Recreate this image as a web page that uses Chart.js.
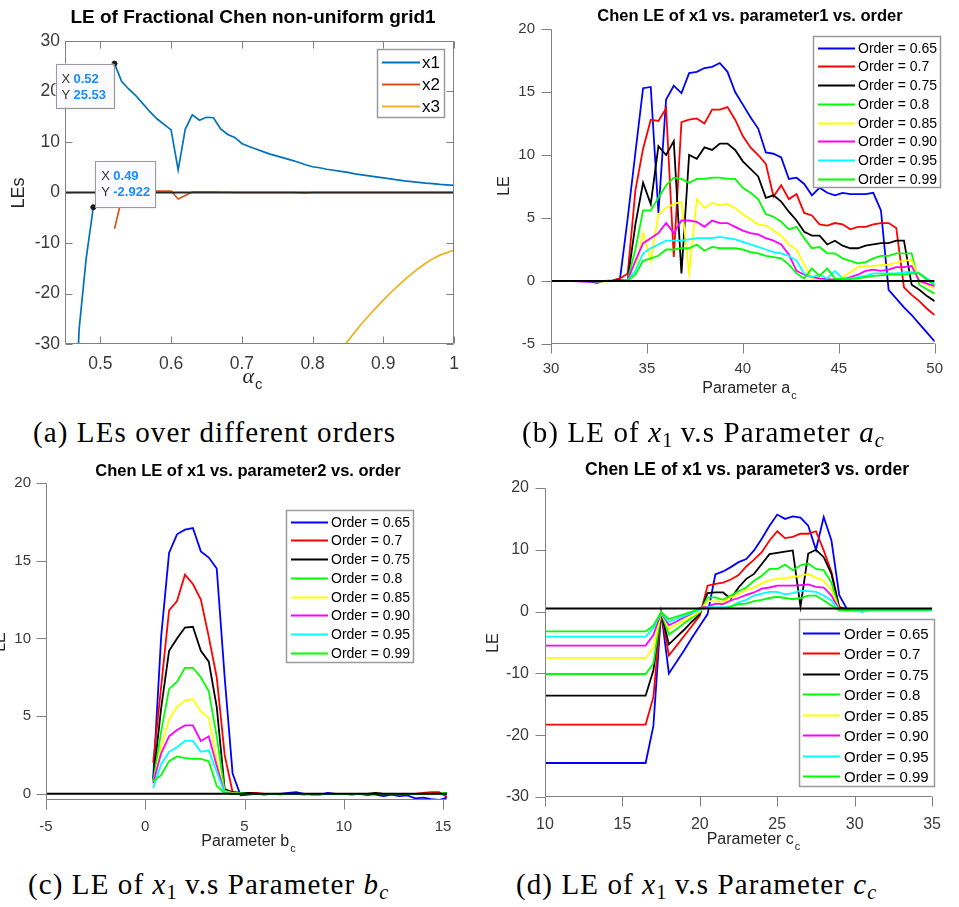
<!DOCTYPE html>
<html>
<head>
<meta charset="utf-8">
<script src="https://cdn.jsdelivr.net/npm/chart.js@4.4.0/dist/chart.umd.min.js"></script>
<style>
  body { margin: 0; background: #fff; width: 959px; height: 907px; position: relative; overflow: hidden; }
  canvas { position: absolute; }
  .cap { position: absolute; font-family: "Liberation Serif", "Times New Roman", serif; font-size: 29px; letter-spacing: 1.1px; white-space: nowrap; color: #000; line-height: 30px; }
  .cap sub { font-size: 0.7em; vertical-align: -0.25em; line-height: 0; letter-spacing: 0; }
</style>
</head>
<body>
<canvas id="chartA" width="480" height="412" style="left:0;top:0"></canvas>
<canvas id="chartB" width="479" height="412" style="left:480px;top:0"></canvas>
<canvas id="chartC" width="480" height="412" style="left:0;top:450px"></canvas>
<canvas id="chartD" width="479" height="412" style="left:480px;top:450px"></canvas>

<div class="cap" style="left:33px;top:417px">(a) LEs over different orders</div>
<div class="cap" style="left:522px;top:417px">(b) LE of <i>x</i><sub>1</sub> v.s Parameter <i>a<sub>c</sub></i></div>
<div class="cap" style="left:28px;top:869px">(c) LE of <i>x</i><sub>1</sub> v.s Parameter <i>b<sub>c</sub></i></div>
<div class="cap" style="left:516px;top:869px">(d) LE of <i>x</i><sub>1</sub> v.s Parameter <i>c<sub>c</sub></i></div>

<script>
// ---------- (a) LEs vs fractional order ----------
const alphaGrid = [0.46, 0.47, 0.48, 0.49, 0.50, 0.51, 0.52, 0.53, 0.54, 0.55, 0.56, 0.57, 0.58, 0.59, 0.60,
  0.61, 0.62, 0.63, 0.64, 0.65, 0.66, 0.67, 0.68, 0.69, 0.70, 0.71, 0.72, 0.73, 0.74, 0.75, 0.76, 0.77, 0.78,
  0.79, 0.80, 0.81, 0.82, 0.83, 0.84, 0.85, 0.86, 0.87, 0.88, 0.89, 0.90, 0.91, 0.92, 0.93, 0.94, 0.95, 0.96,
  0.97, 0.98, 0.99, 1.00];
const leX1 = [-60, -27, -13, -2.922, null, null, 25.53, 22.0, 20.5, 19.2, 17.6, 16.0, 14.6, 13.5, 12.4,
  4.5, 12.5, 15.4, 14.3, 14.9, 14.8, 12.6, 11.5, 10.9, 9.7, 9.1, 8.6, 8.1, 7.6, 7.2, 6.8, 6.4, 6.0,
  5.5, 5.1, 4.9, 4.6, 4.4, 4.2, 4.0, 3.7, 3.5, 3.3, 3.1, 2.9, 2.7, 2.5, 2.3, 2.15, 2.0, 1.85,
  1.75, 1.6, 1.5, 1.4];
const leX2 = [null, null, null, null, null, null, -7.2, -1.3, 0.1, 0.3, 0.3, 0.3, 0.3, 0.3, 0.3,
  -1.3, -0.6, 0.1, 0.1, 0.1, 0.1, 0.05, 0.05, 0, 0, 0, 0, 0, 0, 0, 0, 0, -0.05,
  -0.1, 0, 0, 0, 0, 0, 0, 0, 0, 0, 0, 0, 0, 0, 0, 0, 0, 0,
  0, 0, 0, 0];
const alphaGridX3 = [0.84, 0.85, 0.86, 0.87, 0.88, 0.89, 0.90, 0.91, 0.92, 0.93, 0.94, 0.95, 0.96, 0.97, 0.98, 0.99, 1.00];
const leX3 = [-31.2, -29.4, -27.6, -25.9, -24.3, -22.8, -21.3, -19.9, -18.6, -17.3, -16.1, -15.0, -14.0, -13.1, -12.4, -11.9, -11.4];
const zeroLineAx = [0.45, 1.0];
const zeroLineA = [0, 0];
const tipX = [0.52, 0.49];
const tipY = [25.53, -2.922];

// ---------- shared legend labels for (b)-(d) ----------
const orderLabels = ['Order = 0.65', 'Order = 0.7', 'Order = 0.75', 'Order = 0.8',
  'Order = 0.85', 'Order = 0.90', 'Order = 0.95', 'Order = 0.99'];
const orderColors = ['#0000ff', '#ff0000', '#000000', '#00ff00', '#ffff00', '#ff00ff', '#00ffff', '#00ff00'];

// ---------- (b) LE of x1 vs parameter a ----------
const paramA = [30, 30.4, 30.8, 31.2, 31.6, 32, 32.4, 32.8, 33.2, 33.6, 34, 34.4, 34.8, 35.2, 35.6, 36, 36.4,
  36.8, 37.2, 37.6, 38, 38.4, 38.8, 39.2, 39.6, 40, 40.4, 40.8, 41.2, 41.6, 42, 42.4, 42.8, 43.2, 43.6, 44,
  44.4, 44.8, 45.2, 45.6, 46, 46.4, 46.8, 47.2, 47.6, 48, 48.4, 48.8, 49.2, 49.6, 50];
const b065 = [0, 0, 0, 0, 0, -0.05, -0.15, 0, 0, 0.2, 5.0, 10.2, 15.3, 15.4, 5.4, 14.4, 15.5, 14.9, 16.5, 16.6,
  16.9, 17.0, 17.3, 16.6, 15.0, 14.0, 13.0, 12.1, 10.2, 10.1, 9.8, 8.1, 8.2, 7.7, 6.8, 7.4, 7.0, 6.8, 7.0, 6.9,
  6.9, 6.9, 7.0, 5.6, -0.7, -1.4, -2.1, -2.7, -3.4, -4.1, -4.8];
const b070 = [0, 0, 0, 0, 0, 0, 0, 0, 0.05, 0.2, 0.6, 7.2, 10.5, 12.8, 12.7, 13.7, 1.9, 12.6, 12.8, 12.9,
  12.5, 13.6, 13.6, 13.8, 12.8, 11.5, 10.6, 10.0, 9.3, 6.7, 7.6, 6.5, 6.9, 5.4, 5.2, 4.5, 4.4, 4.6, 4.5, 4.1,
  4.3, 4.3, 4.5, 4.6, 4.6, 4.2, -0.5, -1.1, -1.6, -2.2, -2.7];
const b075 = [0, 0, 0, 0, 0, 0, 0, 0, 0, 0.05, 0.1, 4.5, 7.8, 6.1, 10.7, 10.0, 11.1, 0.6, 10.0, 9.7,
  10.6, 10.4, 10.9, 10.9, 10.4, 9.5, 8.9, 8.3, 6.6, 6.8, 6.3, 5.5, 4.8, 3.9, 3.6, 3.6, 2.9, 3.2, 2.8, 2.6,
  2.6, 2.8, 2.9, 3.0, 3.0, 3.2, 3.2, -0.3, -0.7, -1.2, -1.6];
const b080 = [0, 0, 0, 0, 0, 0, 0, 0, 0, 0, 0.1, 2.5, 5.6, 5.6, 6.6, 7.6, 8.2, 8.1, 7.8, 8.1,
  8.1, 8.2, 8.2, 8.1, 8.1, 7.4, 7.0, 6.5, 5.3, 5.1, 4.7, 4.1, 4.3, 3.4, 2.6, 2.7, 2.2, 2.2, 1.8, 1.6,
  1.4, 1.5, 1.8, 2.0, 2.0, 2.2, 2.2, 2.2, -0.3, -0.65, -1.0];
const b085 = [0, 0, 0, 0, 0, 0, -0.05, -0.05, 0, 0, 0.05, 0.8, 3.8, 1.6, 5.3, 5.8, 6.1, 6.3, 0.6, 6.5,
  5.8, 6.2, 6.0, 6.1, 5.8, 5.3, 4.9, 4.5, 4.4, 4.0, 3.6, 2.9, 2.5, 1.3, 0.15, 0.1, 0.15, 0.1, 0.3, 0.7,
  1.1, 1.2, 1.2, 1.25, 1.3, 1.45, 1.6, 1.7, 0.0, -0.3, -0.6];
const b090 = [0, 0, 0, 0, -0.05, -0.05, 0, 0, 0, 0, 0.05, 1.6, 3.0, 3.4, 3.8, 4.6, 3.8, 4.8, 4.8, 4.7,
  4.3, 4.8, 4.6, 4.6, 4.3, 4.0, 3.8, 3.7, 3.4, 3.2, 2.9, 2.1, 0.8, 0.5, 0.3, 0.2, 0.15, 0.1, 0.15, 0.3,
  0.5, 0.8, 0.9, 0.8, 0.9, 1.1, 1.1, 1.2, 0.0, -0.2, -0.4];
const b095 = [0, 0, 0, 0, 0, 0, 0, 0, 0, 0, 0.05, 0.8, 2.2, 2.6, 2.9, 3.2, 3.2, 3.2, 3.3, 3.4,
  3.4, 3.4, 3.5, 3.4, 3.3, 3.1, 2.9, 2.7, 2.5, 2.3, 2.2, 2.0, 1.6, 0.6, 0.3, 0.5, 0.2, 0.8, 0.2, 0.2,
  0.3, 0.4, 0.6, 0.6, 0.6, 0.6, 0.7, 0.7, 0.6, 0.2, -0.2];
const b099 = [0, 0, 0, 0, 0, 0, 0, 0, 0, 0, 0.05, 0.5, 1.6, 1.8, 2.0, 2.5, 2.5, 2.6, 2.6, 2.9,
  2.4, 2.7, 2.6, 2.6, 2.6, 2.5, 2.3, 2.2, 2.0, 1.9, 1.8, 1.3, 0.6, 0.2, 1.0, 0.4, 1.0, 0.2, 0.15, 0.15,
  0.2, 0.3, 0.4, 0.45, 0.5, 0.5, 0.5, 0.6, 0.6, 0.1, -0.3];
const zeroLineBx = [30, 50];
const zeroLineB = [0, 0];

// ---------- (c) LE of x1 vs parameter b ----------
const paramB = [0.4, 0.8, 1.2, 1.6, 2.0, 2.4, 2.8, 3.2, 3.6, 4.0, 4.4, 4.8, 5.2, 5.6, 6.0, 6.4, 6.8, 7.2, 7.6,
  8.0, 8.4, 8.8, 9.2, 9.6, 10.0, 10.4, 10.8, 11.2, 11.6, 12.0, 12.4, 12.8, 13.2, 13.6, 14.0, 14.4, 14.8, 15.2];
const c065 = [1.0, 10.1, 15.5, 16.7, 17.0, 17.1, 15.6, 15.2, 14.5, 7.5, 1.3, -0.1,
  -0.05, 0, -0.05, 0, 0, 0.05, 0.1, 0, -0.05, -0.05, 0.05, 0, 0, -0.05, 0, 0, -0.05, -0.15, -0.05, -0.15,
  -0.1, -0.3, -0.25, -0.35, -0.4, -0.25];
const c070 = [2.0, 6.9, 11.8, 12.4, 14.1, 13.5, 12.5, 10.1, 7.5, 2.5, 0.1, 0.05,
  0.05, 0.05, 0, 0, 0, 0, 0, -0.05, 0, 0, 0, 0, 0, 0, 0, -0.1, 0, 0, 0, -0.05, 0, 0, 0.05, 0.1, 0.1, -0.2];
const c075 = [0.9, 5.5, 9.2, 10.0, 10.7, 10.75, 9.2, 8.5, 5.6, 0.3, 0.1, 0.05,
  0.05, 0, 0, 0, 0, 0, 0, 0, 0, 0, 0, 0, 0, 0, 0, 0, 0.05, 0, 0, 0, 0, 0, 0, 0, 0, 0];
const c080 = [0.8, 4.0, 6.75, 7.2, 8.1, 8.1, 7.5, 6.6, 3.7, 0.2, 0.05, 0.05,
  0, 0, 0, 0, -0.05, 0, 0, 0, 0, 0, 0, 0, 0, 0, 0, 0, 0, 0, 0, 0, 0, 0, 0, 0, 0, 0.05];
const c085 = [0.6, 3.0, 4.8, 5.6, 6.0, 6.1, 5.3, 4.9, 2.2, 0.1, 0.05, 0,
  0, 0, 0, 0, 0, 0, 0, 0, 0, 0, 0, 0, 0, 0, 0, 0, 0, 0, 0, 0, 0, 0, 0, 0, 0, 0];
const c090 = [0.7, 2.6, 3.7, 4.1, 4.4, 4.4, 3.4, 3.7, 1.8, 0.05, 0, 0,
  0, 0, 0, 0, 0, 0, 0, 0, 0, 0, 0, 0, 0, 0, 0, 0, 0, 0, 0, 0, 0, 0, 0, 0, 0, 0];
const c095 = [0.37, 1.9, 2.7, 3.0, 3.4, 3.4, 2.7, 2.8, 1.4, 0.05, 0, 0,
  0, 0, 0, 0, 0, 0, 0, 0, 0, 0, 0, 0, 0, 0, 0, 0, 0, 0, 0, 0, 0, 0, 0, 0, 0, 0];
const c099 = [0.8, 1.2, 2.1, 2.4, 2.3, 2.25, 2.25, 2.1, 0.5, 0.05, 0, 0,
  0, 0, 0, 0, 0, 0, 0, 0, 0, 0, 0, 0, 0, 0, 0, 0, 0, 0, 0, 0, 0, 0, 0, 0, 0, 0.05];
const zeroLineCx = [-5, 15.2];
const zeroLineC = [0, 0];

// ---------- (d) LE of x1 vs parameter c ----------
const paramC = [10, 10.5, 11, 11.5, 12, 12.5, 13, 13.5, 14, 14.5, 15, 15.5, 16, 16.5, 17, 17.5, 18, 18.5,
  19, 19.5, 20, 20.5, 21, 21.5, 22, 22.5, 23, 23.5, 24, 24.5, 25, 25.5, 26, 26.5, 27, 27.5, 28, 28.5, 29,
  29.5, 30, 30.5, 31, 31.5, 32, 32.5, 33, 33.5, 34, 34.5, 35];
const d065 = [-24.5, -24.5, -24.5, -24.5, -24.5, -24.5, -24.5, -24.5, -24.5, -24.5, -24.5, -24.5, -24.5, -24.5,
  -18.5, -0.1, -10.0, -8.1, -6.2, -4.2, -2.3, -0.4, 6.0, 6.5, 7.2, 8.0, 8.5, 9.9, 11.8, 13.9, 15.7, 15.0,
  15.4, 15.2, 13.9, 10.0, 15.3, 11.5, 2.7, 0.4, 0.3, 0.0, 0.3, 0.3, 0.3, 0.3, 0.3, 0.3, 0.3, 0.3, 0.3];
const d070 = [-18.3, -18.3, -18.3, -18.3, -18.3, -18.3, -18.3, -18.3, -18.3, -18.3, -18.3, -18.3, -18.3, -18.3,
  -13.8, -0.1, -7.1, -5.5, -3.9, -2.3, -0.65, 4.2, 4.5, 4.7, 5.2, 5.9, 7.3, 8.4, 9.6, 11.5, 13.0, 11.9,
  12.1, 12.6, 12.6, 13.0, 9.9, 6.4, 0.8, 0.3, 0.3, 0.1, 0.3, 0.3, 0.3, 0.3, 0.3, 0.3, 0.3, 0.3, 0.3];
const d075 = [-13.6, -13.6, -13.6, -13.6, -13.6, -13.6, -13.6, -13.6, -13.6, -13.6, -13.6, -13.6, -13.6, -13.6,
  -9.5, -0.1, -5.3, -4.1, -2.9, -1.6, -0.4, 3.0, 3.1, 3.1, 2.1, 3.9, 5.3, 6.1, 7.7, 9.3, 9.5, 9.7,
  9.9, 0.8, 9.4, 10.0, 8.8, 6.1, 0.6, 0.4, 0.4, 0.4, 0.4, 0.4, 0.4, 0.4, 0.4, 0.4, 0.4, 0.4, 0.4];
const d080 = [-10.1, -10.1, -10.1, -10.1, -10.1, -10.1, -10.1, -10.1, -10.1, -10.1, -10.1, -10.1, -10.1, -10.1,
  -8.4, -0.1, -3.7, -2.8, -1.9, -1.0, -0.1, 2.3, 2.3, 1.9, 2.6, 3.3, 3.9, 5.0, 5.8, 6.9, 6.9, 7.6,
  6.7, 7.5, 7.8, 6.9, 6.7, 4.7, 0.4, 0.3, 0.3, 0.3, 0.3, 0.3, 0.3, 0.3, 0.3, 0.3, 0.3, 0.3, 0.3];
const d085 = [-7.5, -7.5, -7.5, -7.5, -7.5, -7.5, -7.5, -7.5, -7.5, -7.5, -7.5, -7.5, -7.5, -7.5,
  -5.8, -0.1, -2.8, -2.1, -1.4, -0.7, 0.0, 1.7, 1.7, 1.6, 2.3, 2.8, 3.5, 3.9, 4.6, 5.1, 5.3, 5.4,
  5.6, 5.8, 6.1, 5.5, 5.0, 3.5, 0.3, 0.3, 0.3, 0.3, 0.3, 0.3, 0.3, 0.3, 0.3, 0.3, 0.3, 0.3, 0.3];
const d090 = [-5.5, -5.5, -5.5, -5.5, -5.5, -5.5, -5.5, -5.5, -5.5, -5.5, -5.5, -5.5, -5.5, -5.5,
  -3.8, -0.1, -2.2, -1.6, -0.9, -0.3, 0.6, 0.8, 1.3, 1.2, 1.8, 2.2, 2.7, 3.1, 3.7, 3.9, 4.2, 4.2,
  4.2, 4.3, 4.4, 4.0, 3.9, 2.6, 0.3, 0.3, 0.3, 0.3, 0.3, 0.3, 0.3, 0.3, 0.3, 0.3, 0.3, 0.3, 0.3];
const d095 = [-4.05, -4.05, -4.05, -4.05, -4.05, -4.05, -4.05, -4.05, -4.05, -4.05, -4.05, -4.05, -4.05, -4.05,
  -2.7, -0.1, -1.7, -1.2, -0.7, -0.2, 0.3, 0.7, 0.7, 0.7, 0.8, 1.5, 1.9, 2.6, 2.9, 3.2, 3.2, 2.8,
  3.0, 3.4, 3.3, 3.2, 2.6, 1.8, 0.3, 0.2, 0.1, 0.0, 0.2, 0.2, 0.2, 0.2, 0.2, 0.2, 0.2, 0.2, 0.2];
const d099 = [-3.2, -3.2, -3.2, -3.2, -3.2, -3.2, -3.2, -3.2, -3.2, -3.2, -3.2, -3.2, -3.2, -3.2,
  -2.3, -0.1, -1.2, -0.8, -0.4, 0.0, 0.5, 0.6, 0.6, 0.5, 0.8, 1.2, 1.3, 1.7, 1.9, 2.2, 2.4, 2.2,
  2.0, 2.2, 2.6, 2.6, 1.8, 1.0, 0.2, 0.2, 0.3, 0.3, 0.3, 0.3, 0.3, 0.3, 0.3, 0.3, 0.3, 0.3, 0.3];
const zeroLineDx = [10, 35];
const zeroLineD = [0.5, 0.5];

// ---------- drawing helpers ----------
const FONT = '"Liberation Sans", Arial, Helvetica, sans-serif';
const AXIS_COLOR = '#808080';
const TICK_TEXT = '#3a3a3a';

function line(label, xs, ys, color, width, order) {
  return {
    label: label,
    data: xs.map((x, i) => ({ x: x, y: ys[i] })),
    borderColor: color, backgroundColor: color, borderWidth: width,
    pointRadius: 0, showLine: true, fill: false, tension: 0, spanGaps: false, order: order
  };
}

// matlab-like axis lines + tick marks
const matlabAxes = {
  id: 'mAxes',
  afterDatasetsDraw(chart, args, o) {
    const ctx = chart.ctx, a = chart.chartArea;
    const xs = chart.scales.x, ys = chart.scales.y;
    const L = Math.round(a.left) + 0.5, R = Math.round(a.right) - 0.5;
    const T = Math.round(a.top) + 0.5, B = Math.round(a.bottom) - 0.5;
    const d = o.inward ? -o.len : o.len;
    ctx.save();
    ctx.strokeStyle = AXIS_COLOR;
    ctx.lineWidth = 1;
    ctx.beginPath();
    ctx.moveTo(L, T); ctx.lineTo(L, B); ctx.lineTo(R, B);
    if (o.box) { ctx.lineTo(R, T); ctx.lineTo(L, T); }
    xs.ticks.forEach(t => {
      const p = Math.round(xs.getPixelForValue(t.value)) + 0.5;
      ctx.moveTo(p, B); ctx.lineTo(p, B + d);
      if (o.box) { ctx.moveTo(p, T); ctx.lineTo(p, T - d); }
    });
    ys.ticks.forEach(t => {
      const p = Math.round(ys.getPixelForValue(t.value)) + 0.5;
      ctx.moveTo(L, p); ctx.lineTo(L - d, p);
      if (o.box) { ctx.moveTo(R, p); ctx.lineTo(R + d, p); }
    });
    ctx.stroke();
    ctx.restore();
  }
};

// title, x label (with subscript), y label
const matlabText = {
  id: 'mText',
  afterDraw(chart, args, o) {
    const ctx = chart.ctx;
    ctx.save();
    ctx.fillStyle = '#000';
    ctx.textAlign = 'center';
    ctx.textBaseline = 'middle';
    ctx.font = 'bold ' + o.title.size + 'px ' + FONT;
    ctx.fillText(o.title.text, o.title.x, o.title.y);

    const xl = o.xlabel;
    ctx.fillStyle = '#262626';
    ctx.font = xl.font;
    const w1 = ctx.measureText(xl.text).width;
    ctx.font = xl.subFont;
    const w2 = ctx.measureText(xl.sub).width;
    const x0 = xl.x - (w1 + w2) / 2;
    ctx.textAlign = 'left';
    ctx.textBaseline = 'alphabetic';
    ctx.font = xl.font;
    ctx.fillText(xl.text, x0, xl.y);
    ctx.font = xl.subFont;
    ctx.fillText(xl.sub, x0 + w1 + 1, xl.y + xl.subDy);

    const yl = o.ylabel;
    ctx.translate(yl.x, yl.y);
    ctx.rotate(-Math.PI / 2);
    ctx.textAlign = 'center';
    ctx.textBaseline = 'middle';
    ctx.font = yl.size + 'px ' + FONT;
    ctx.fillText(yl.text, 0, 0);
    ctx.restore();
  }
};

// boxed legend at fixed spot
const matlabLegend = {
  id: 'mLegend',
  afterDraw(chart, args, o) {
    const ctx = chart.ctx;
    ctx.save();
    ctx.fillStyle = '#fff';
    ctx.fillRect(o.x, o.y, o.w, o.h);
    ctx.strokeStyle = '#9a9a9a';
    ctx.lineWidth = 1.5;
    ctx.strokeRect(o.x + 0.5, o.y + 0.5, o.w, o.h);
    ctx.font = o.size + 'px ' + FONT;
    ctx.textAlign = 'left';
    ctx.textBaseline = 'middle';
    o.items.forEach((di, k) => {
      const ds = chart.data.datasets[di];
      const cy = Math.round(o.y + o.first + k * o.row) + 0.5;
      ctx.strokeStyle = ds.borderColor;
      ctx.lineWidth = 2;
      ctx.beginPath();
      ctx.moveTo(o.lx0, cy); ctx.lineTo(o.lx1, cy);
      ctx.stroke();
      ctx.fillStyle = '#000';
      ctx.fillText(ds.label, o.tx, cy + 1);
    });
    ctx.restore();
  }
};

// data tips on chart (a)
const dataTips = {
  id: 'mTips',
  afterDraw(chart, args, o) {
    const ctx = chart.ctx;
    const xs = chart.scales.x, ys = chart.scales.y;
    ctx.save();
    o.tips.forEach(tp => {
      const px = xs.getPixelForValue(tp.x), py = ys.getPixelForValue(tp.y);
      const left = tp.side === 'left' ? px - 1 - tp.w : px + 2;
      const top = tp.side === 'left' ? py : py - tp.h;
      ctx.shadowColor = 'rgba(0,0,0,0.18)';
      ctx.shadowBlur = 3;
      ctx.shadowOffsetX = 1; ctx.shadowOffsetY = 1;
      ctx.fillStyle = '#fbfbff';
      ctx.fillRect(left, top, tp.w, tp.h);
      ctx.shadowColor = 'transparent';
      ctx.strokeStyle = '#9a9a9a';
      ctx.lineWidth = 1;
      ctx.strokeRect(Math.round(left) + 0.5, Math.round(top) + 0.5, tp.w, tp.h);
      ctx.textAlign = 'left';
      ctx.textBaseline = 'middle';
      [['X', String(tp.x)], ['Y', String(tp.y)]].forEach((row, k) => {
        const cy = top + 15.5 + k * 16;
        ctx.font = '13px ' + FONT;
        ctx.fillStyle = '#333';
        ctx.fillText(row[0], left + 6, cy);
        ctx.font = 'bold 13px ' + FONT;
        ctx.fillStyle = '#1a8cff';
        ctx.fillText(row[1], left + 18, cy);
      });
    });
    ctx.restore();
  }
};

function axis(min, max, step, size, pad, fit, isX) {
  return {
    type: 'linear', min: min, max: max,
    grid: { display: false, drawTicks: false },
    border: { display: false },
    ticks: { stepSize: step, includeBounds: false, color: TICK_TEXT, padding: pad, maxRotation: 0, autoSkip: false,
      font: { family: FONT, size: size },
      callback: v => String(Math.round(v * 1000) / 1000) },
    afterFit: s => { if (isX) s.height = fit; else s.width = fit; }
  };
}

function baseOptions(pad, xAxis, yAxis, pl) {
  return {
    responsive: false, animation: false, events: [],
    layout: { padding: pad },
    scales: { x: xAxis, y: yAxis },
    plugins: Object.assign({ legend: { display: false }, tooltip: { enabled: false } }, pl)
  };
}

function orderSets(xs, seriesList) {
  return seriesList.map((ys, i) => line(orderLabels[i], xs, ys, orderColors[i], 1.8, 20 - i));
}

// ---------- chart (a) ----------
new Chart(document.getElementById('chartA'), {
  type: 'scatter',
  data: {
    datasets: [
      line('x1', alphaGrid, leX1, '#0072BD', 1.7, 5),
      line('x2', alphaGrid, leX2, '#D95319', 1.7, 4),
      line('x3', alphaGridX3, leX3, '#EDB120', 1.7, 3),
      line('zero', zeroLineAx, zeroLineA, '#262626', 2, 1),
      { label: 'tips', data: tipX.map((x, i) => ({ x: x, y: tipY[i] })), showLine: false, pointRadius: 2.5,
        pointBackgroundColor: '#1a1a1a', pointBorderColor: '#1a1a1a', order: 0 }
    ]
  },
  options: baseOptions({ left: 15, top: 41, right: 26, bottom: 28 },
    axis(0.45, 1.0, 0.1, 17.5, 10, 40, true),
    axis(-30, 30, 10, 17.5, 5, 50, false),
    {
      mAxes: { box: true, inward: true, len: 7 },
      mText: {
        title: { text: 'LE of Fractional Chen non-uniform grid1', size: 19, x: 253, y: 18 },
        xlabel: { text: '\u03b1', sub: 'c', font: 'italic 22px "Liberation Serif", serif', subFont: '15px ' + FONT,
          x: 252, y: 383, subDy: 6 },
        ylabel: { text: 'LEs', size: 18, x: 19, y: 193 }
      },
      mLegend: { x: 377, y: 49, w: 67, h: 68, lx0: 382, lx1: 420, tx: 422, first: 13.3, row: 22, size: 17,
        items: [0, 1, 2] },
      mTips: { tips: [
        { x: tipX[0], y: tipY[0], side: 'left', w: 58, h: 44 },
        { x: tipX[1], y: tipY[1], side: 'right', w: 60, h: 46 }
      ] }
    })
  ,
  plugins: [matlabAxes, matlabText, matlabLegend, dataTips]
});

// ---------- chart (b) ----------
new Chart(document.getElementById('chartB'), {
  type: 'scatter',
  data: {
    datasets: orderSets(paramA, [b065, b070, b075, b080, b085, b090, b095, b099])
      .concat([line('zero', zeroLineBx, zeroLineB, '#000000', 2, 0)])
  },
  options: baseOptions({ left: 21, top: 29, right: 10, bottom: 28 },
    axis(30, 50, 5, 15, 16, 40, true),
    axis(-5, 20, 5, 15, 16, 50, false),
    {
      mAxes: { box: false, inward: false, len: 10 },
      mText: {
        title: { text: 'Chen LE of x1 vs. parameter1 vs. order', size: 16.5, x: 270, y: 16 },
        xlabel: { text: 'Parameter a', sub: 'c', font: '16px ' + FONT, subFont: '11px ' + FONT, x: 269, y: 393, subDy: 6 },
        ylabel: { text: 'LE', size: 16, x: 25, y: 186 }
      },
      mLegend: { x: 333, y: 36, w: 127, h: 151, lx0: 338, lx1: 375, tx: 378, first: 11.7, row: 18.7, size: 14,
        items: [0, 1, 2, 3, 4, 5, 6, 7] }
    }),
  plugins: [matlabAxes, matlabText, matlabLegend]
});

// ---------- chart (c) ----------
new Chart(document.getElementById('chartC'), {
  type: 'scatter',
  data: {
    datasets: orderSets(paramB, [c065, c070, c075, c080, c085, c090, c095, c099])
      .concat([line('zero', zeroLineCx, zeroLineC, '#000000', 2, 0)])
  },
  options: baseOptions({ left: 6, top: 33, right: 33, bottom: 22 },
    axis(-5, 15.2, 5, 15, 18, 40, true),
    axis(-0.4, 20, 5, 15, 15, 40, false),
    {
      mAxes: { box: false, inward: false, len: 10 },
      mText: {
        title: { text: 'Chen LE of x1 vs. parameter2 vs. order', size: 16.5, x: 248, y: 21 },
        xlabel: { text: 'Parameter b', sub: 'c', font: '16px ' + FONT, subFont: '11px ' + FONT, x: 248, y: 396, subDy: 6 },
        ylabel: { text: 'LE', size: 16, x: 1, y: 192 }
      },
      mLegend: { x: 286, y: 60, w: 127, h: 152, lx0: 291, lx1: 328, tx: 331, first: 11.7, row: 18.7, size: 14,
        items: [0, 1, 2, 3, 4, 5, 6, 7] }
    }),
  plugins: [matlabAxes, matlabText, matlabLegend]
});

// ---------- chart (d) ----------
new Chart(document.getElementById('chartD'), {
  type: 'scatter',
  data: {
    datasets: orderSets(paramC, [d065, d070, d075, d080, d085, d090, d095, d099])
      .concat([line('zero', zeroLineDx, zeroLineD, '#000000', 2, 0)])
  },
  options: baseOptions({ left: 15, top: 38, right: 9, bottom: 25 },
    axis(10, 35, 5, 16, 18, 40, true),
    axis(-30, 20, 10, 16, 16, 50, false),
    {
      mAxes: { box: false, inward: false, len: 10 },
      mText: {
        title: { text: 'Chen LE of x1 vs. parameter3 vs. order', size: 17.5, x: 267, y: 20 },
        xlabel: { text: 'Parameter c', sub: 'c', font: '16px ' + FONT, subFont: '11px ' + FONT, x: 273, y: 394, subDy: 6 },
        ylabel: { text: 'LE', size: 16, x: 14, y: 193 }
      },
      mLegend: { x: 319, y: 169, w: 135, h: 167, lx0: 323, lx1: 360, tx: 364, first: 13.7, row: 20.5, size: 15,
        items: [0, 1, 2, 3, 4, 5, 6, 7] }
    }),
  plugins: [matlabAxes, matlabText, matlabLegend]
});
</script>
</body>
</html>
